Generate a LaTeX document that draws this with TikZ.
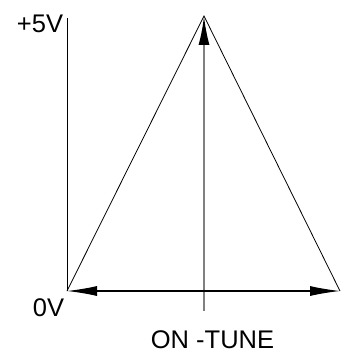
\documentclass[tikz,border=0pt]{standalone}
\usepackage{fontspec}
\setmainfont{Liberation Sans}
\usetikzlibrary{arrows.meta}

\begin{document}
\begin{tikzpicture}[x=1pt, y=-1pt,
    lbl/.style={inner sep=0pt, font=\fontsize{25.5}{25.5}\selectfont},
    wire/.style={line width=0.8pt},
    arr/.style={{Latex[length=30pt,width=10pt]}-{Latex[length=30pt,width=10pt]}, line width=1.1pt},
    tune/.style={-{Latex[length=29pt,width=11pt,black]}, line width=2pt, black!50}
]
\useasboundingbox (0,0) rectangle (347,353);
\coordinate (org) at (67,291);
\coordinate (ax) at (67,18);
\coordinate (apex) at (204,16);
\coordinate (rt) at (340,291);
\coordinate (bot) at (204,311);

\node[lbl] (vmax) at (40,23.5) {+5V};
\node[lbl] (vmin) at (48.5,307.5) {0V};
\node[lbl] (name) at (212.5,339.5) {ON -TUNE};

\draw[wire] (org) -- (ax);
\draw[wire] (org) -- (apex) -- (rt);
\draw[tune] (bot) -- (apex);
\draw[arr] (org) -- (rt);
\end{tikzpicture}
\end{document}
